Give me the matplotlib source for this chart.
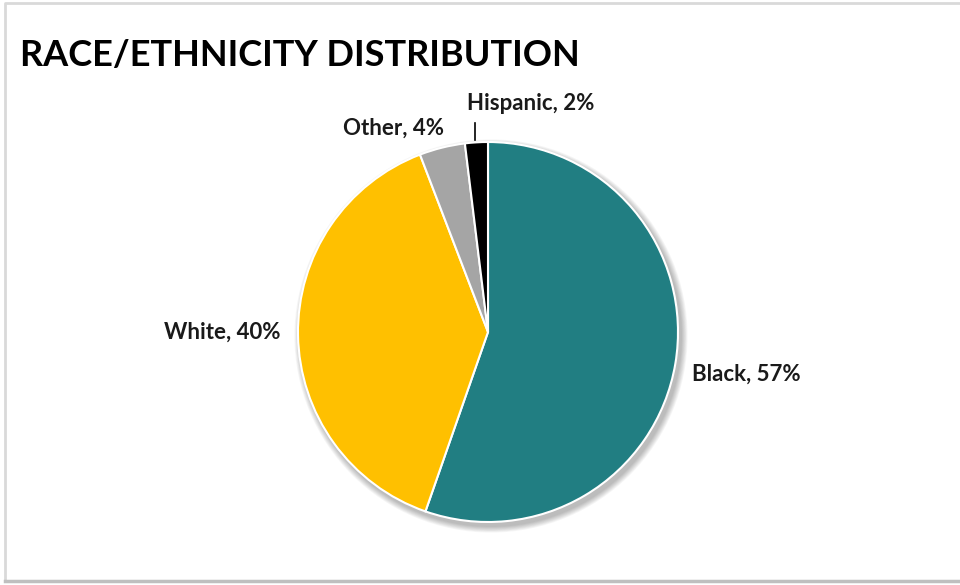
import numpy as np
import matplotlib.pyplot as plt
from matplotlib.patches import Circle

groups = ["Black", "White", "Other", "Hispanic"]
shares = [57, 40, 4, 2]
colors = ["#217E82", "#FFC000", "#A5A5A5", "#000000"]

plt.rcParams["font.family"] = ["Lato", "DejaVu Sans"]

fig = plt.figure(figsize=(9.6, 5.85), dpi=100)
ax = fig.add_axes([0, 0, 1, 1])

cx, cy, r = 488, 253, 190

# chart frame
ax.plot([5, 5, 965], [3, 582, 582], color="#D9D9D9", lw=2, solid_capstyle="butt")
ax.plot([5, 965], [4, 4], color="#BFBFBF", lw=2.5)

# soft drop shadow behind the pie
for k in range(8):
    ax.add_patch(Circle((cx + 3, cy - 4), r + 1 + k * 0.8, color="black",
                        alpha=0.035, lw=0, zorder=1))

wedges, _ = ax.pie(shares, colors=colors, startangle=90, counterclock=False,
                   center=(cx, cy), radius=r, frame=True,
                   wedgeprops=dict(edgecolor="white", linewidth=1.5, zorder=2))
ax.set_xlim(0, 960)
ax.set_ylim(0, 585)
ax.set_aspect("equal")
ax.axis("off")

# label placement per wedge: (distance factor, ha, va, dx, dy)
place = {
    "Black": (1.09, "left", "center", 0, -8),
    "White": (1.09, "right", "center", 0, 3),
    "Other": (1.07, "right", "bottom", 5, -4),
    "Hispanic": (1.15, "left", "bottom", -8, 0),
}

for w, name, val in zip(wedges, groups, shares):
    mid = np.deg2rad((w.theta1 + w.theta2) / 2)
    d, ha, va, dx, dy = place[name]
    tx = cx + d * r * np.cos(mid) + dx
    ty = cy + d * r * np.sin(mid) + dy
    ax.text(tx, ty, f"{name}, {val}%", ha=ha, va=va, fontsize=16,
            fontweight="bold", color="#1A1A1A", zorder=5)
    if name == "Hispanic":
        lx = cx + r * np.cos(mid) - 1
        ax.plot([lx, lx], [cy + 1.01 * r, cy + 1.1 * r], color="black", lw=1.2)

ax.text(20, 530, "RACE/ETHNICITY DISTRIBUTION", ha="left", va="center",
        fontsize=26, fontweight="bold", color="black")

fig.savefig("out.png", dpi=100)
